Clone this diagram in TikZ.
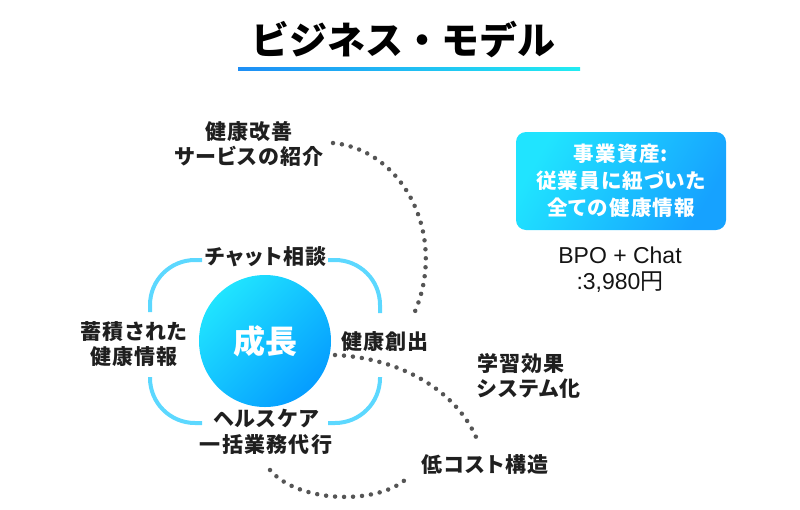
\documentclass[tikz,border=0pt]{standalone}
\usepackage{fontspec}
\setmainfont{Noto Sans CJK JP}
\newfontfamily\lblfont{Noto Sans CJK JP}[RawFeature=+palt, LetterSpace=6]
\newfontfamily\latinfont{Liberation Sans}
\usetikzlibrary{calc}

\definecolor{bracketblue}{HTML}{5CD8FF}
\definecolor{dotgray}{HTML}{555555}
\definecolor{growcyan}{HTML}{20E4FF}
\definecolor{growblue}{HTML}{059DFF}
\definecolor{boxblue}{HTML}{16A2FF}
\definecolor{lineblue}{HTML}{1E8EF5}
\definecolor{linecyan}{HTML}{22ECF2}

\begin{document}
\begin{tikzpicture}[
  x=1pt, y=-1pt,
  every node/.style={inner sep=0pt, align=center},
  lbl/.style={font=\lblfont\bfseries\fontsize{21}{25.5}\selectfont, text=black!88},
  bracket/.style={draw=bracketblue, line width=4pt, rounded corners=45pt},
  dots/.style={draw=dotgray, line width=4.5pt, line cap=round, dash pattern=on 0pt off 9pt}
]
\useasboundingbox (0,0) rectangle (800,509);

% title
\node (title) at (403,40) {\bfseries\fontsize{38}{40}\selectfont ビジネス・モデル};
\shade[left color=lineblue, right color=linecyan] (238,67.8) rectangle (580,70.4);

% core circle
\node[circle, minimum size=132pt, top color=growcyan, bottom color=growblue, shading angle=45]
  (growth) at (265,341) {\color{white}\bfseries\fontsize{32}{34}\selectfont 成長};

% bracket corners
\draw[bracket] (150,312) |- (202,260);
\draw[bracket] (328,260) -| (380,313);
\draw[bracket] (380,377) |- (328,423);
\draw[bracket] (202,423) -| (150,377);

% labels
\node[lbl] (chat) at (266,257) {チャット相談};
\node[lbl] (stored) at (134,344) {蓄積された\\健康情報};
\node[lbl] (care) at (266,432) {ヘルスケア\\一括業務代行};
\node[lbl] (create) at (385,342) {健康創出};
\node[lbl] (intro) at (249,144) {健康改善\\サービスの紹介};
\node[lbl, align=left, anchor=west] (learn) at (477,376) {学習効果\\システム化};
\node[lbl] (cost) at (485,465) {低コスト構造};

% dotted links
\coordinate (d1a) at (333,143);
\coordinate (d1b) at (412,318);
\coordinate (d2a) at (335,355);
\coordinate (d2b) at (476,437);
\coordinate (d3a) at (270,470);
\coordinate (d3b) at (410,475);
\draw[dots] (d1a) .. controls (405,150) and (450,240) .. (d1b);
\draw[dots] (d2a) .. controls (400,358) and (455,390) .. (d2b);
\draw[dots] (d3a) .. controls (300,505) and (385,505) .. (d3b);

% assets box
\node[rounded corners=10pt, minimum width=210pt, minimum height=98pt,
  top color=growcyan, bottom color=boxblue, shading angle=60,
  font=\lblfont\bfseries\fontsize{20.5}{27}\selectfont, text=white]
  (assets) at (621,181) {事業資産:\\従業員に紐づいた\\全ての健康情報};
\node[font=\fontsize{23}{26}\selectfont, text=black!92] (price) at (620,270)
  {{\latinfont BPO + Chat}\\{\latinfont :3,980}円};
\end{tikzpicture}
\end{document}
